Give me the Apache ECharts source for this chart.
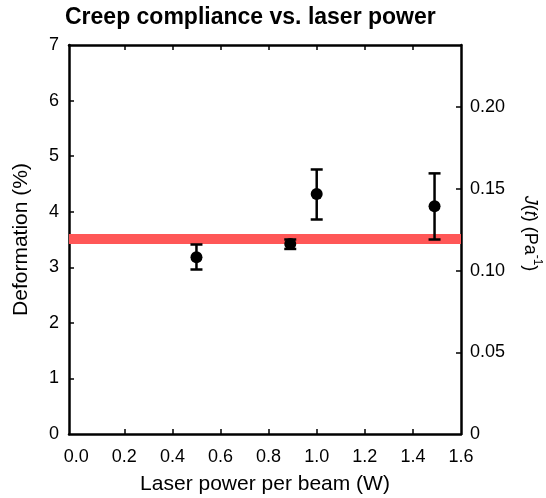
<!DOCTYPE html>
<html>
<head>
<meta charset="utf-8">
<script src="https://cdn.jsdelivr.net/npm/echarts@6/dist/echarts.min.js"></script>
<style>
  html, body { margin: 0; padding: 0; background: #fff; }
  #chart { width: 546px; height: 498px; }
</style>
</head>
<body>
<div id="chart"></div>
<script>
// Measured deformation at each laser power (mean with error range)
const powers = [0.5, 0.89, 1.0, 1.49];
const deformation = [3.18, 3.42, 4.32, 4.10];
const errLow = [2.96, 3.33, 3.86, 3.50];
const errHigh = [3.41, 3.50, 4.76, 4.69];
// Average level drawn as a horizontal band
const meanDeformation = 3.51;
// Tick labels
const xTicks = [0, 0.2, 0.4, 0.6, 0.8, 1.0, 1.2, 1.4, 1.6];
const xInnerTicks = [0.2, 0.4, 0.6, 0.8, 1.0, 1.2, 1.4];
const yTicks = [0, 1, 2, 3, 4, 5, 6, 7];
const jTicks = [0, 0.05, 0.10, 0.15, 0.20];

const X_MIN = -0.03, X_MAX = 1.6;
const Y_MIN = 0, Y_MAX = 7;
const J_MAX = 0.238;

const FONT = "'Liberation Sans', Arial, Helvetica, sans-serif";
const AXIS_LINE = { show: true, onZero: false, lineStyle: { color: '#000', width: 2.5 } };
const TICK = { show: true, inside: true, length: 5, lineStyle: { color: '#000', width: 1.5 } };

const chart = echarts.init(document.getElementById('chart'), null, { renderer: 'canvas' });

const pointData = powers.map((p, i) => [p, deformation[i]]);
const errData = powers.map((p, i) => [p, errLow[i], errHigh[i]]);
const bandData = [[X_MIN, meanDeformation], [X_MAX, meanDeformation]];

chart.setOption({
  animation: false,
  backgroundColor: '#fff',
  textStyle: { fontFamily: FONT },
  title: {
    text: 'Creep compliance vs. laser power',
    left: 60,
    top: 1,
    textStyle: { fontFamily: FONT, fontSize: 23, fontWeight: 'bold', color: '#000' }
  },
  grid: { left: 69, right: 85, top: 45, bottom: 64, containLabel: false, outerBoundsMode: 'none' },
  xAxis: [
    {
      type: 'value', position: 'bottom', min: X_MIN, max: X_MAX,
      axisLine: AXIS_LINE,
      axisTick: Object.assign({}, TICK, { customValues: xInnerTicks }),
      axisLabel: {
        customValues: xTicks, color: '#000', fontSize: 18, fontFamily: FONT, margin: 14,
        formatter: v => v.toFixed(1)
      },
      splitLine: { show: false },
      name: 'Laser power per beam (W)', nameLocation: 'middle', nameGap: 40,
      nameTextStyle: { color: '#000', fontSize: 21, fontFamily: FONT }
    },
    {
      type: 'value', position: 'top', min: X_MIN, max: X_MAX,
      axisLine: AXIS_LINE,
      axisTick: Object.assign({}, TICK, { customValues: xInnerTicks }),
      axisLabel: { show: false },
      splitLine: { show: false }
    }
  ],
  yAxis: [
    {
      type: 'value', position: 'left', min: Y_MIN, max: Y_MAX, interval: 1,
      axisLine: AXIS_LINE,
      axisTick: Object.assign({}, TICK, { customValues: yTicks.slice(1, -1) }),
      axisLabel: { customValues: yTicks, color: '#000', fontSize: 18, fontFamily: FONT, margin: 10 },
      splitLine: { show: false },
      name: 'Deformation (%)', nameLocation: 'middle', nameGap: 37, nameRotate: 90,
      nameTextStyle: { color: '#000', fontSize: 21, fontFamily: FONT }
    },
    {
      type: 'value', position: 'right', min: 0, max: J_MAX, alignTicks: false,
      axisLine: AXIS_LINE,
      axisTick: Object.assign({}, TICK, { customValues: jTicks.slice(1) }),
      axisLabel: {
        customValues: jTicks, color: '#000', fontSize: 18, fontFamily: FONT, margin: 9,
        formatter: v => (v === 0 ? '0' : v.toFixed(2))
      },
      splitLine: { show: false },
      name: '{i|J}{n|(}{i|t}{n|) (Pa}{s|-1}{n|)}',
      nameLocation: 'middle', nameGap: 60, nameRotate: -90,
      nameTextStyle: {
        color: '#000', fontSize: 18, fontFamily: FONT, padding: [0, 12, 0, 0],
        rich: {
          i: { fontStyle: 'italic', fontSize: 18, fontFamily: FONT, color: '#000', lineHeight: 22, verticalAlign: 'bottom' },
          n: { fontSize: 18, fontFamily: FONT, color: '#000', lineHeight: 22, verticalAlign: 'bottom' },
          s: { fontSize: 12, fontFamily: FONT, color: '#000', lineHeight: 22, verticalAlign: 'top' }
        }
      }
    }
  ],
  series: [
    {
      name: 'mean', type: 'line', data: bandData, symbol: 'none', silent: true, z: 1,
      lineStyle: { color: '#ff5757', width: 10 }
    },
    {
      name: 'error', type: 'custom', z: 3,
      renderItem: function (params, api) {
        const x = api.value(0);
        const lo = api.coord([x, api.value(1)]);
        const hi = api.coord([x, api.value(2)]);
        const half = 6;
        const style = { stroke: '#000', lineWidth: 2.5, fill: null };
        return {
          type: 'group',
          children: [
            { type: 'line', shape: { x1: lo[0], y1: lo[1], x2: hi[0], y2: hi[1] }, style },
            { type: 'line', shape: { x1: lo[0] - half, y1: lo[1], x2: lo[0] + half, y2: lo[1] }, style },
            { type: 'line', shape: { x1: hi[0] - half, y1: hi[1], x2: hi[0] + half, y2: hi[1] }, style }
          ]
        };
      },
      encode: { x: 0, y: [1, 2] },
      data: errData
    },
    {
      name: 'deformation', type: 'scatter', data: pointData, z: 4,
      symbol: 'circle', symbolSize: 12,
      itemStyle: { color: '#000', opacity: 1 }
    }
  ]
});
</script>
</body>
</html>
